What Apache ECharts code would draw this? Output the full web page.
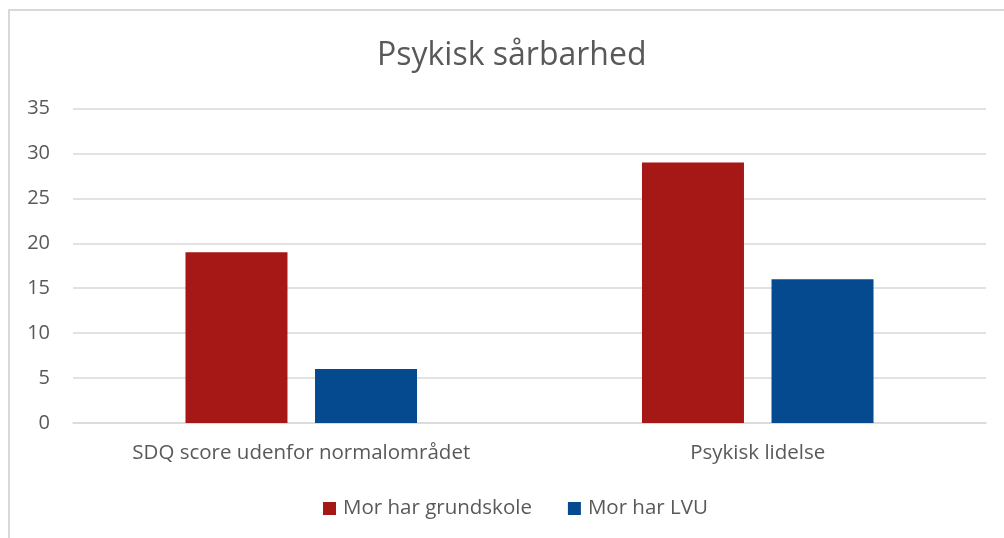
<!DOCTYPE html>
<html>
<head>
<meta charset="utf-8">
<script src="https://cdn.jsdelivr.net/npm/echarts@6/dist/echarts.min.js"></script>
<style>
  html, body { margin: 0; padding: 0; background: #fff; }
  #chart { width: 1004px; height: 538px; }
</style>
</head>
<body>
<div id="chart"></div>
<script>
const categories = ['SDQ score udenfor normalområdet', 'Psykisk lidelse'];
const grundskole = [19, 29];
const lvu = [6, 16];
const seriesNames = ['Mor har grundskole', 'Mor har LVU'];

const font = 'Open Sans, sans-serif';
const textColor = '#595959';

const chart = echarts.init(document.getElementById('chart'));

chart.setOption({
  animation: false,
  backgroundColor: '#fff',
  title: {
    text: 'Psykisk sårbarhed',
    left: 372,
    top: 35,
    textStyle: { fontFamily: font, fontSize: 32, fontWeight: 'normal', color: textColor }
  },
  graphic: [{
    type: 'rect',
    shape: { x: 9, y: 10, width: 1100, height: 700 },
    style: { fill: 'none', stroke: '#d9d9d9', lineWidth: 2 },
    silent: true
  }],
  grid: { left: 73, right: 18, top: 108.5, bottom: 115, containLabel: false },
  legend: {
    bottom: 14,
    left: 318,
    itemWidth: 13,
    itemHeight: 13,
    itemGap: 36,
    icon: 'rect',
    textStyle: { fontFamily: font, fontSize: 20.5, color: textColor, padding: [0, 0, 0, 2] },
    data: seriesNames
  },
  xAxis: {
    type: 'category',
    data: categories,
    axisLine: { lineStyle: { color: '#d9d9d9', width: 1.5 } },
    axisTick: { show: false },
    axisLabel: { fontFamily: font, fontSize: 20.5, color: textColor, margin: 20 }
  },
  yAxis: {
    type: 'value',
    min: 0,
    max: 35,
    interval: 5,
    axisLine: { show: false },
    axisTick: { show: false },
    splitLine: { lineStyle: { color: '#d9d9d9', width: 1.5 } },
    axisLabel: { fontFamily: font, fontSize: 20, color: textColor, margin: 23 }
  },
  series: [
    {
      name: seriesNames[0],
      type: 'bar',
      data: grundskole,
      barWidth: 102,
      barGap: '27%',
      itemStyle: { color: '#A51816' }
    },
    {
      name: seriesNames[1],
      type: 'bar',
      data: lvu,
      barWidth: 102,
      itemStyle: { color: '#054A8E' }
    }
  ]
});
</script>
</body>
</html>
